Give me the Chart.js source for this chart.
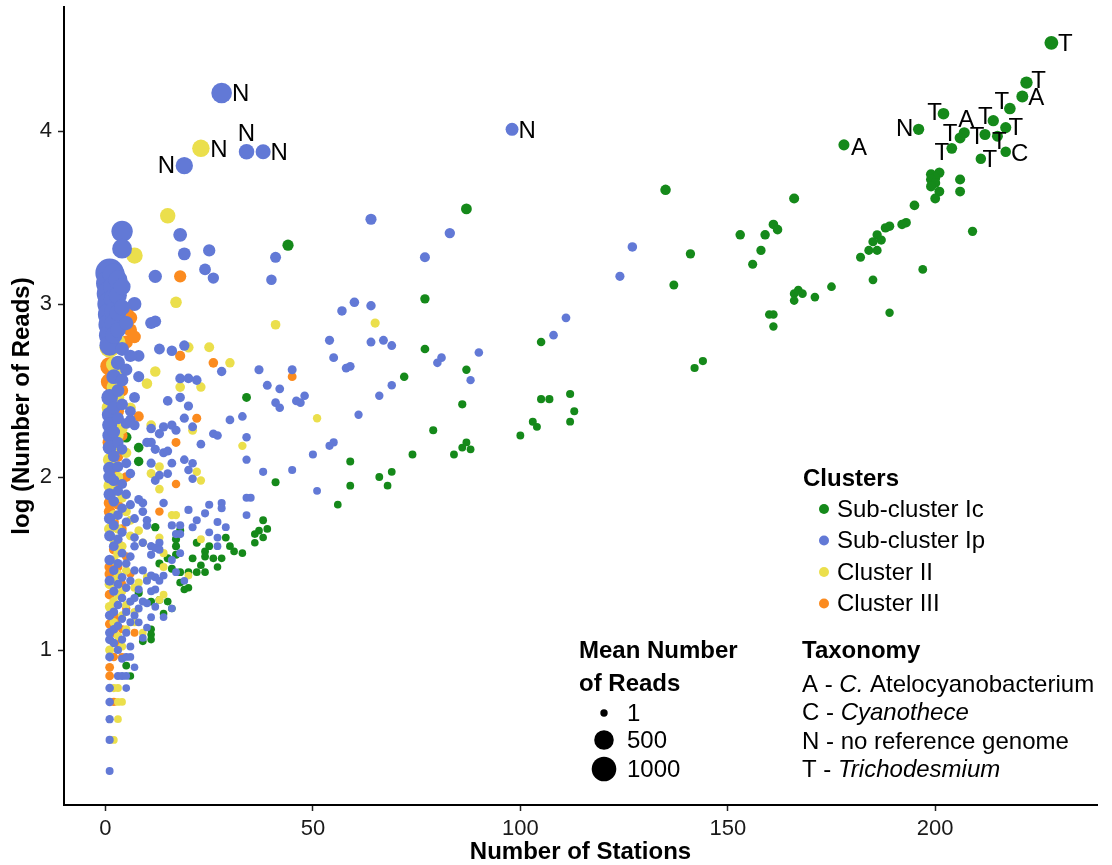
<!DOCTYPE html>
<html>
<head>
<meta charset="utf-8">
<script src="https://cdn.jsdelivr.net/npm/chart.js@4.4.1/dist/chart.umd.min.js"></script>
<style>
  html, body { margin: 0; padding: 0; background: #fff; }
  canvas { display: block; }
</style>
</head>
<body>
<canvas id="stations" width="1112" height="865"></canvas>
<script>
var xTicks = [0, 50, 100, 150, 200];
var yTicks = [1, 2, 3, 4];
var sizeBreaks = [1, 500, 1000];

var clusterNames = ["Sub-cluster Ic", "Sub-cluster Ip", "Cluster II", "Cluster III"];
var clusterColors = ["#15891a", "#6279d6", "#ebdf4c", "#fb8b1f"];

// Sub-cluster Ic: the first points carry a taxonomy letter
var icStations = [
    228, 222, 221, 218, 214, 217, 207, 206, 212, 215, 204, 217, 211, 202, 196, 178,
    201, 199, 200, 199, 200, 199, 201, 200, 206, 206, 195, 193, 192, 189, 188, 186, 187, 185, 184, 186, 182, 209, 197, 185, 175, 189,
    135, 141, 137, 142, 144, 153, 159, 161, 162, 158, 156, 166, 166, 167, 168, 166, 171, 160, 161, 161,
    87, 77, 77, 72, 87, 86, 79, 74, 84, 86, 87, 88, 105, 105, 107, 112, 113, 112, 103, 104, 100, 59, 59, 66, 69, 68, 56, 41, 34, 44,
    38, 39, 38, 37, 36, 36, 33, 30, 31, 29, 28, 27, 26, 25, 24, 24, 23, 22, 24, 21, 22, 18, 17, 17, 15, 16, 18, 18, 20, 19,
    13, 12, 13, 15, 16, 14, 5, 8, 8, 11, 11, 9, 6, 5, 8, 17, 20, 11, 11
];
var icLogReads = [
    4.51, 4.28, 4.20, 4.13, 4.06, 4.02, 3.99, 3.96, 3.98, 3.97, 3.90, 3.88, 3.84, 4.10, 4.01, 3.92,
    3.76, 3.75, 3.73, 3.72, 3.70, 3.68, 3.65, 3.61, 3.72, 3.65, 3.57, 3.47, 3.46, 3.45, 3.44, 3.40, 3.37, 3.36, 3.31, 3.31, 3.27, 3.42, 3.20, 3.14, 3.10, 2.95,
    3.66, 3.29, 3.11, 2.63, 2.67, 3.40, 3.40, 3.46, 3.43, 3.31, 3.23, 3.61, 3.06, 3.08, 3.06, 3.02, 3.04, 2.94, 2.94, 2.87,
    3.55, 3.03, 2.74, 2.58, 2.62, 2.42, 2.27, 2.13, 2.13, 2.17, 2.20, 2.16, 2.78, 2.45, 2.45, 2.48, 2.38, 2.32, 2.32, 2.29, 2.24, 2.09, 1.95, 2.00, 2.03, 1.95, 1.84, 1.97, 2.46, 3.34,
    1.75, 1.70, 1.65, 1.69, 1.67, 1.62, 1.56, 1.60, 1.57, 1.65, 1.53, 1.48, 1.53, 1.60, 1.57, 1.54, 1.49, 1.45, 1.45, 1.53, 1.62, 1.69, 1.64, 1.55, 1.53, 1.47, 1.45, 1.39, 1.36, 1.35,
    1.50, 1.71, 1.29, 1.28, 1.24, 1.21, 2.23, 2.17, 2.09, 1.12, 1.09, 1.05, 0.85, 0.91, 1.33, 1.60, 1.45, 1.28, 1.06
];
var icTaxa = ["T", "T", "A", "T", "T", "T", "A", "T", "T", "T", "T", "C", "T", "T", "N", "A"];

// Sub-cluster Ip
var ipStations = [
    28, 19, 34, 38, 98,
    18, 19, 25, 41, 24, 4, 4, 12, 26, 40,
    7, 11, 12, 13, 16, 19, 8, 8, 28, 37,
    45, 18, 20, 22, 39, 42, 7, 15, 18, 20,
    41, 42, 46, 47, 48, 57, 60, 54, 55, 58,
    59, 61, 19, 30, 33, 6, 14, 16, 17, 21,
    26, 27, 11, 11, 10, 23, 34, 14, 15, 16,
    19, 21, 11, 12, 13, 15, 21, 34, 38, 45,
    50, 54, 55, 51, 34, 35, 34, 28, 28, 25,
    24, 20, 22, 14, 27, 29, 27, 21, 18, 16,
    17, 8, 9, 10, 10, 7, 9, 11, 13, 25,
    27, 18, 12, 13, 18, 16, 12, 13, 19, 17,
    12, 16, 11,
    64, 83, 77, 127, 124, 111, 108, 90, 64, 64,
    67, 69, 81, 80, 88, 69, 66,
    5, 13, 12, 20, 9, 7, 7, 11, 6, 9,
    11, 14, 11, 10, 12, 14, 8, 10, 9,
    1, 1, 1, 1, 1, 1, 1, 1, 1, 1,
    1, 1, 1, 1, 1, 1, 1, 1, 1, 1,
    1, 1, 1, 1, 1, 1, 1, 1, 1,
    2, 2, 2, 2, 2, 2, 2, 2, 2, 2,
    2, 2, 2, 2, 2, 2, 2, 2, 2,
    3, 3, 3, 3, 3, 3, 3, 3, 3, 3,
    3, 3, 3, 3, 3, 3, 3, 3,
    4, 4, 4, 4, 4, 4, 4, 4, 4, 4,
    4, 4, 4, 4, 4, 4,
    5, 5, 5, 5, 5, 5, 5, 5, 5, 5,
    5, 5,
    6, 6, 6, 6, 6, 6, 6, 6, 6,
    7, 7, 7, 7, 7,
    8, 8, 9, 10
];
var ipLogReads = [
    4.22, 3.80, 3.88, 3.88, 4.01,
    3.40, 3.29, 3.31, 3.27, 3.20, 3.42, 3.32, 3.16, 3.15, 3.14,
    3.00, 2.89, 2.90, 2.74, 2.73, 2.76, 2.70, 2.58, 2.61, 2.62,
    2.62, 2.57, 2.57, 2.56, 2.53, 2.51, 2.46, 2.44, 2.46, 2.41,
    2.43, 2.40, 2.44, 2.43, 2.47, 2.96, 3.01, 2.79, 2.69, 2.63,
    2.64, 2.36, 2.34, 2.33, 2.35, 2.33, 2.29, 2.30, 2.27, 2.29,
    2.25, 2.24, 2.28, 2.20, 2.20, 2.19, 2.23, 2.14, 2.15, 2.08,
    2.10, 2.08, 2.08, 1.98, 2.01, 2.02, 1.99, 2.10, 2.03, 2.04,
    2.13, 2.18, 2.20, 1.92, 1.88, 1.88, 1.78, 1.85, 1.82, 1.84,
    1.79, 1.81, 1.75, 1.85, 1.74, 1.71, 1.65, 1.71, 1.72, 1.72,
    1.67, 1.87, 1.85, 1.75, 1.72, 1.65, 1.62, 1.60, 1.62, 1.68,
    1.60, 1.67, 1.59, 1.58, 1.56, 1.52, 1.42, 1.40, 1.40, 1.45,
    1.35, 1.24, 1.19,
    3.49, 3.41, 3.27, 3.33, 3.16, 2.92, 2.82, 2.72, 2.99, 2.78,
    2.79, 2.76, 2.69, 2.66, 2.56, 2.53, 2.47,
    2.31, 2.25, 2.16, 2.04, 1.80, 1.76, 1.60, 1.55, 1.54, 1.46,
    1.43, 1.43, 1.34, 1.27, 1.25, 1.19, 1.16, 1.13, 1.07,
    3.18, 3.12, 3.06, 3.00, 2.94, 2.88, 2.82, 2.76, 2.46, 2.36,
    2.30, 2.24, 2.17, 2.05, 2.00, 1.90, 1.76, 1.66, 1.52, 1.40,
    1.20, 1.10, 1.06, 0.96, 0.78, 0.70, 0.60, 0.48, 0.30,
    3.17, 3.10, 3.03, 2.96, 2.89, 2.82, 2.58, 2.40, 2.26, 2.12,
    1.98, 1.86, 1.72, 1.60, 1.46, 1.34, 1.22, 1.12, 1.04,
    3.14, 3.05, 2.95, 2.85, 2.66, 2.50, 2.34, 2.20, 2.06, 1.92,
    1.78, 1.64, 1.50, 1.38, 1.26, 1.14, 1.00, 0.85,
    3.10, 2.98, 2.74, 2.56, 2.42, 2.16, 1.96, 1.82, 1.68, 1.56,
    1.42, 1.30, 1.18, 1.06, 0.95, 0.85,
    2.89, 2.62, 2.08, 1.90, 1.74, 1.50, 1.36, 1.22, 1.10, 0.96,
    0.85, 0.78,
    2.70, 2.38, 2.02, 1.84, 1.40, 1.28, 1.16, 1.02, 0.96,
    2.30, 1.46, 1.30, 1.20, 0.90,
    1.35, 1.24, 1.28, 1.40
];
var ipTaxa = ["N", "N", "N", "N", "N"];

// Cluster II
var iiStations = [
    23,
    15, 7, 17, 41, 25, 20, 30, 12, 18, 23,
    11, 21, 51, 33, 13, 11, 22, 23, 13, 16,
    17, 23, 13, 20, 14, 13, 65, 10, 6, 8,
    9, 14, 10, 7, 8, 14, 7, 7, 9,
    1, 1, 1, 1, 1, 1, 1, 1,
    2, 2, 2, 2, 2, 2, 2, 2, 2, 2,
    2, 2, 2, 2,
    3, 3, 3, 3, 3, 3, 3, 3, 3, 3,
    3, 3,
    4, 4, 4, 4, 4, 4, 4, 4,
    5, 5, 5, 5, 5, 6, 6
];
var iiLogReads = [
    3.90,
    3.51, 3.28, 3.01, 2.88, 2.75, 2.75, 2.66, 2.61, 2.52, 2.52,
    2.30, 2.27, 2.34, 2.18, 2.06, 2.02, 2.03, 1.98, 1.93, 1.78,
    1.78, 1.64, 1.65, 1.43, 1.48, 1.29, 2.89, 2.54, 1.75, 1.69,
    1.62, 1.56, 1.42, 1.36, 1.39, 1.32, 1.22, 1.16, 1.10,
    2.75, 2.40, 2.10, 1.95, 1.70, 1.38, 1.25, 1.00,
    2.92, 2.65, 2.52, 2.32, 2.18, 1.92, 1.78, 1.64, 1.52, 1.40,
    1.28, 1.16, 0.78, 0.48,
    2.78, 2.46, 2.24, 2.00, 1.70, 1.56, 1.44, 1.32, 1.08, 0.78,
    0.70, 0.60,
    2.62, 2.28, 1.88, 1.60, 1.34, 1.20, 1.02, 0.70,
    2.14, 1.80, 1.46, 1.26, 1.12, 2.40, 1.66
];
var iiTaxa = ["N"];

// Cluster III
var iiiStations = [
    18, 18, 26, 45, 22, 17, 17, 13, 8, 7,
    1, 1, 1, 1, 1, 1, 1, 1, 1, 1,
    1,
    2, 2, 2, 2, 2, 2, 2, 2, 2, 2,
    2, 2,
    3, 3, 3, 3, 3, 3, 3, 3,
    4, 4, 4, 4, 4, 4,
    5, 5, 5, 5, 5,
    6, 6, 6, 7
];
var iiiLogReads = [
    3.16, 2.70, 2.66, 2.58, 2.34, 2.20, 1.96, 1.80, 2.35, 1.10,
    2.64, 2.55, 2.20, 1.85, 1.80, 1.48, 1.44, 1.32, 1.15, 0.90,
    0.85,
    2.78, 2.44, 2.30, 2.04, 1.94, 1.74, 1.58, 1.42, 1.20, 1.10,
    0.96, 0.70,
    2.58, 2.38, 2.12, 1.84, 1.62, 1.48, 1.18, 1.04,
    2.50, 2.24, 1.70, 1.38, 1.12, 0.96,
    2.95, 2.78, 2.00, 1.54, 1.24,
    2.92, 2.85, 1.44, 2.81
];
var iiiTaxa = [];

var taxonomyKey = [
    [["A - ", false], ["C.", true], [" Atelocyanobacterium", false]],
    [["C - ", false], ["Cyanothece", true]],
    [["N - no reference genome", false]],
    [["T - ", false], ["Trichodesmium", true]]
];

// pixel nudges for the taxonomy letters, so they sit beside their points
var tagNudges = [
    [[14, 1], [12, -2], [14, 1], [-8, -7], [-8, -4], [10, 0], [2, -13], [-10, -5],
     [-8, 2], [2, 5], [-10, 4], [14, 2], [9, 1], [-9, -1], [-14, -1], [15, 3]],
    [[19, 0], [-18, 0], [0, -18], [16, 1], [15, 1]],
    [[18, 1]],
    []
];

var fontFamily = '"Liberation Sans", Arial, Helvetica, sans-serif';
Chart.defaults.font.family = fontFamily;

// point radius grows with the square root of the mean reads per station
function radiusFor(meanReads) {
    return 3.7 + 8.6 * Math.sqrt(Math.max(meanReads - 1, 0) / 999);
}

function buildPoints(stations, logReads) {
    return stations.map(function(s, i) {
        var meanReads = Math.pow(10, logReads[i]) / s;
        return { x: s, y: logReads[i], r: radiusFor(meanReads) };
    });
}

function clusterDataset(i, stations, logReads, drawOrder) {
    return {
        label: clusterNames[i],
        data: buildPoints(stations, logReads),
        backgroundColor: clusterColors[i],
        borderWidth: 0,
        order: drawOrder
    };
}

var taxaByCluster = [icTaxa, ipTaxa, iiTaxa, iiiTaxa];

var taxonTags = {
    id: "taxonTags",
    afterDatasetsDraw: function(chart) {
        var ctx = chart.ctx;
        ctx.save();
        ctx.font = "24px " + fontFamily;
        ctx.fillStyle = "#000";
        ctx.textAlign = "center";
        ctx.textBaseline = "middle";
        taxaByCluster.forEach(function(taxa, d) {
            var meta = chart.getDatasetMeta(d);
            taxa.forEach(function(letter, i) {
                var pt = meta.data[i];
                ctx.fillText(letter, pt.x + tagNudges[d][i][0], pt.y + tagNudges[d][i][1] + 1);
            });
        });
        ctx.restore();
    }
};

// the three keys (clusters, point size, taxonomy) drawn inside the plot
var keys = {
    id: "keys",
    afterDraw: function(chart) {
        var ctx = chart.ctx;
        ctx.save();
        ctx.fillStyle = "#000";
        ctx.textAlign = "left";
        ctx.textBaseline = "middle";

        ctx.font = "bold 24px " + fontFamily;
        ctx.fillText("Clusters", 803, 479);
        ctx.fillText("Mean Number", 579, 651);
        ctx.fillText("of Reads", 579, 684);
        ctx.fillText("Taxonomy", 802, 651);

        ctx.font = "24px " + fontFamily;
        clusterNames.forEach(function(name, i) {
            var y = 509 + i * 31.5;
            ctx.fillStyle = clusterColors[i];
            ctx.beginPath();
            ctx.arc(824, y, 5, 0, Math.PI * 2);
            ctx.fill();
            ctx.fillStyle = "#000";
            ctx.fillText(name, 837, y + 1);
        });

        var sizeRows = [713, 740, 769];
        sizeBreaks.forEach(function(v, i) {
            ctx.beginPath();
            ctx.arc(604, sizeRows[i], radiusFor(v), 0, Math.PI * 2);
            ctx.fill();
            ctx.fillText(String(v), 627, sizeRows[i] + 1);
        });

        taxonomyKey.forEach(function(parts, i) {
            var x = 802;
            var y = 685 + i * 28.5;
            parts.forEach(function(p) {
                ctx.font = (p[1] ? "italic " : "") + "24px " + fontFamily;
                ctx.fillText(p[0], x, y);
                x += ctx.measureText(p[0]).width;
            });
        });
        ctx.restore();
    }
};

var axisGrid = {
    display: true,
    drawOnChartArea: false,
    drawTicks: true,
    tickLength: 6,
    tickColor: "#222",
    tickWidth: 1.5
};

var chart = new Chart(document.getElementById("stations").getContext("2d"), {
    type: "bubble",
    data: {
        datasets: [
            clusterDataset(0, icStations, icLogReads, 4),
            clusterDataset(1, ipStations, ipLogReads, 1),
            clusterDataset(2, iiStations, iiLogReads, 2),
            clusterDataset(3, iiiStations, iiiLogReads, 3)
        ]
    },
    options: {
        responsive: false,
        animation: false,
        events: [],
        layout: {
            autoPadding: false,
            padding: { top: 7, right: 15, bottom: 0, left: 0 }
        },
        plugins: {
            legend: { display: false },
            tooltip: { enabled: false }
        },
        scales: {
            x: {
                type: "linear",
                min: -10,
                max: 239,
                afterBuildTicks: function(scale) {
                    scale.ticks = xTicks.map(function(v) { return { value: v }; });
                },
                afterFit: function(scale) {
                    scale.height = 60;
                    scale.paddingLeft = 0;
                    scale.paddingRight = 0;
                },
                grid: axisGrid,
                border: { display: true, color: "#000", width: 2 },
                ticks: { color: "#1a1a1a", padding: 5, font: { size: 22 } },
                title: {
                    display: true,
                    text: "Number of Stations",
                    color: "#000",
                    font: { size: 24, weight: "bold" },
                    padding: { top: 0, bottom: -2 }
                }
            },
            y: {
                type: "linear",
                min: 0.104,
                max: 4.717,
                afterBuildTicks: function(scale) {
                    scale.ticks = yTicks.map(function(v) { return { value: v }; });
                },
                afterFit: function(scale) {
                    scale.width = 64;
                    scale.paddingTop = 0;
                    scale.paddingBottom = 0;
                },
                grid: axisGrid,
                border: { display: true, color: "#000", width: 2 },
                ticks: { color: "#1a1a1a", padding: 6, font: { size: 22 } },
                title: {
                    display: true,
                    text: "log (Number of Reads)",
                    color: "#000",
                    font: { size: 24, weight: "bold" },
                    padding: { top: 8, bottom: 0 }
                }
            }
        }
    },
    plugins: [taxonTags, keys]
});
</script>
</body>
</html>
